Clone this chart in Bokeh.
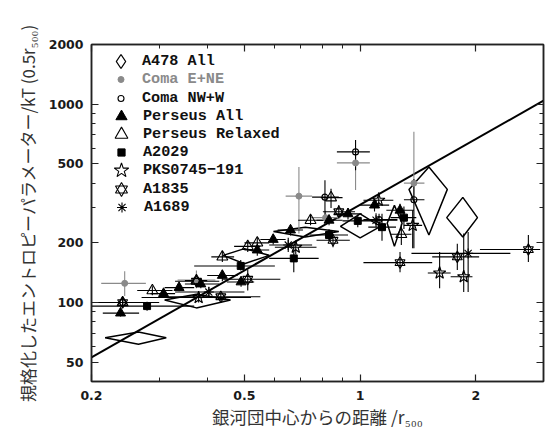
from bokeh.plotting import figure
from bokeh.models import ColumnDataSource, FixedTicker, LogAxis, Legend, LegendItem, Range1d
from bokeh.embed import file_html
from bokeh.resources import INLINE

# ---------------- data ----------------
x_ticks = [0.2, 0.5, 1, 2]
x_minor = [0.3, 0.4, 0.6, 0.7, 0.8, 0.9]
y_ticks = [50, 100, 200, 500, 1000, 2000]
y_minor = [60, 70, 80, 90, 300, 400, 600, 700, 800, 900]

line_x = [0.2, 3.0]
line_y = [53, 1042]

a478_x   = [0.265, 0.375, 0.50, 0.72, 1.00, 1.228, 1.51, 1.85]
a478_xlo = [0.217, 0.310, 0.44, 0.595, 0.889, 1.176, 1.34, 1.68]
a478_xhi = [0.313, 0.460, 0.58, 0.88, 1.13, 1.286, 1.686, 2.02]
a478_y   = [66.4, 103, 173, 228, 242, 251, 372, 268]
a478_ylo = [61.6, 94, 157, 214, 212, 192, 219, 214]
a478_yhi = [71.1, 110, 187, 240, 280, 309, 483, 339]

comaE_x   = [0.244, 0.375, 0.693, 0.813, 0.973, 1.38]
comaE_y   = [125, 130, 344, 268, 506, 400]
comaE_xlo = [0.212, 0.335, 0.64, 0.74, 0.87, 1.30]
comaE_xhi = [0.277, 0.42, 0.75, 0.89, 1.06, 1.47]
comaE_ylo = [108, 118, 223, 250, 369, 330]
comaE_yhi = [144, 145, 482, 290, 580, 726]

comaW_x   = [0.241, 0.81, 0.973, 1.38, 1.12]
comaW_y   = [100, 340, 575, 330, 262]
comaW_xlo = [0.214, 0.75, 0.87, 1.30, 1.02]
comaW_xhi = [0.268, 0.88, 1.06, 1.47, 1.25]
comaW_ylo = [94, 270, 465, 188, 245]
comaW_yhi = [106, 414, 660, 420, 280]

persA_x   = [0.238, 0.308, 0.338, 0.385, 0.438, 0.49, 0.54, 0.594, 0.659, 0.83, 0.93, 1.09, 1.27]
persA_y   = [88.5, 111, 119, 124, 137, 127, 184, 208, 232, 260, 280, 310, 292]
persA_xlo = [0.214, 0.285, 0.31, 0.35, 0.40, 0.45, 0.50, 0.55, 0.61, 0.77, 0.86, 1.0, 1.17]
persA_xhi = [0.266, 0.33, 0.37, 0.43, 0.48, 0.53, 0.58, 0.64, 0.71, 0.90, 1.01, 1.19, 1.38]
persA_ylo = [85, 106, 114, 118, 128, 120, 172, 196, 218, 245, 262, 288, 270]
persA_yhi = [92, 116, 124, 131, 146, 135, 197, 221, 247, 276, 300, 333, 315]

persR_x   = [0.241, 0.288, 0.375, 0.438, 0.51, 0.54, 0.743, 0.84, 1.28]
persR_y   = [100, 115, 129, 170, 192, 200, 260, 338, 221]
persR_xlo = [0.214, 0.263, 0.35, 0.41, 0.47, 0.50, 0.69, 0.79, 1.20]
persR_xhi = [0.268, 0.325, 0.40, 0.47, 0.55, 0.58, 0.80, 0.90, 1.36]
persR_ylo = [95, 109, 122, 160, 180, 188, 245, 300, 195]
persR_yhi = [106, 121, 136, 180, 204, 213, 277, 375, 250]

a2029_x   = [0.279, 0.489, 0.672, 0.83, 0.986, 1.14, 1.30]
a2029_y   = [96, 153, 167, 219, 258, 240, 268]
a2029_xlo = [0.20, 0.37, 0.58, 0.74, 0.90, 1.05, 1.20]
a2029_xhi = [0.37, 0.60, 0.78, 0.93, 1.08, 1.24, 1.40]
a2029_ylo = [91, 145, 142, 205, 240, 205, 235]
a2029_yhi = [101, 164, 195, 234, 278, 280, 305]

pks_x   = [0.38, 0.68, 1.118, 1.37, 1.61, 1.86]
pks_y   = [106, 190, 328, 245, 141, 135]
pks_xlo = [0.27, 0.60, 1.02, 1.30, 1.50, 1.72]
pks_xhi = [0.52, 0.77, 1.22, 1.45, 1.72, 1.96]
pks_ylo = [100, 175, 300, 188, 118, 113]
pks_yhi = [112, 205, 360, 292, 180, 223]

a1835_x   = [0.241, 0.375, 0.434, 0.51, 0.85, 0.88, 1.27, 1.79, 2.74]
a1835_y   = [100, 128, 107, 131, 206, 287, 159, 170, 185]
a1835_xlo = [0.20, 0.33, 0.30, 0.44, 0.77, 0.80, 1.02, 1.54, 2.05]
a1835_xhi = [0.30, 0.43, 0.55, 0.62, 0.94, 0.97, 1.54, 2.04, 2.94]
a1835_ylo = [95, 120, 102, 115, 190, 265, 142, 146, 160]
a1835_yhi = [105, 137, 112, 147, 222, 310, 180, 198, 219]

a1689_x   = [0.404, 0.65, 1.10, 1.91]
a1689_y   = [113, 195, 260, 177]
a1689_xlo = [0.33, 0.58, 1.0, 1.36]
a1689_xhi = [0.50, 0.75, 1.25, 2.46]
a1689_ylo = [106, 180, 240, 113]
a1689_yhi = [120, 212, 282, 227]

labels = ["A478 All", "Coma E+NE", "Coma NW+W", "Perseus All", "Perseus Relaxed",
          "A2029", "PKS0745\u2212191", "A1835", "A1689"]

# ---------------- figure ----------------
W, H = 545, 431
BL, BR, BT, BB = 91, 2, 44, 50
p = figure(width=W, height=H, x_axis_type="log", y_axis_type="log",
           x_range=Range1d(0.2, 3.0), y_range=Range1d(40, 2000),
           output_backend="svg", toolbar_location=None,
           min_border_left=BL, min_border_right=BR, min_border_top=BT, min_border_bottom=BB)
p.xgrid.visible = False
p.ygrid.visible = False
p.outline_line_color = "#222222"
p.outline_line_width = 1.5
p.background_fill_color = "white"
p.border_fill_color = "white"

tick_font = "DejaVu Sans"
def style_axis(ax, ticks, minor, labels_on):
    ax.ticker = FixedTicker(ticks=ticks, minor_ticks=minor)
    ax.major_tick_in = 7
    ax.major_tick_out = 0
    ax.minor_tick_in = 4
    ax.minor_tick_out = 0
    ax.major_tick_line_color = "#222222"
    ax.minor_tick_line_color = "#222222"
    ax.major_tick_line_width = 1.2
    ax.minor_tick_line_width = 1.0
    ax.axis_line_color = "#222222"
    ax.axis_line_width = 1.5
    if labels_on:
        ax.major_label_text_font = tick_font
        ax.major_label_text_font_style = "bold"
        ax.major_label_text_font_size = "12.5px"
        ax.major_label_text_color = "#1a1a1a"
        ax.major_label_overrides = {t: ("%g" % t) for t in ticks}
    else:
        ax.major_label_text_font_size = "1px"
        ax.major_label_text_color = None
        ax.major_label_standoff = 0

xa = p.xaxis[0]
ya = p.yaxis[0]
style_axis(xa, x_ticks, x_minor, True)
style_axis(ya, y_ticks, y_minor, True)
xa.major_label_standoff = 9
ya.major_label_standoff = 8

top_ax = LogAxis()
right_ax = LogAxis()
style_axis(top_ax, x_ticks, x_minor, False)
style_axis(right_ax, y_ticks, y_minor, False)
p.add_layout(top_ax, "above")
p.add_layout(right_ax, "right")

xa.axis_label = "銀河団中心からの距離 /r\u2085\u2080\u2080"
ya.axis_label = "規格化したエントロピーパラメーター/kT (0.5r\u2085\u2080\u2080)"
for ax in (xa, ya):
    ax.axis_label_text_font = "Noto Sans CJK JP"
    ax.axis_label_text_font_style = "normal"
    ax.axis_label_text_color = "#333333"
xa.axis_label_text_font_size = "17.5px"
ya.axis_label_text_font_size = "17px"
xa.axis_label_standoff = 1
ya.axis_label_standoff = 6

# fit line
p.line(line_x, line_y, line_color="black", line_width=2)

# A478 diamonds (patches built from the value arrays)
dxs = [[lo, c, hi, c, lo] for lo, c, hi in zip(a478_xlo, a478_x, a478_xhi)]
dys = [[c, hi, c, lo, c] for lo, c, hi in zip(a478_ylo, a478_y, a478_yhi)]
p.patches(dxs, dys, fill_color=None, line_color="black", line_width=1.5)
# zero-size centre markers: only used for the legend symbol
r_a478 = p.scatter(a478_x, a478_y, marker="diamond", size=0, fill_color=None,
                   line_color="black", line_width=1.3)

def series(x, y, xlo, xhi, ylo, yhi, color):
    src = ColumnDataSource(dict(x=x, y=y, xlo=xlo, xhi=xhi, ylo=ylo, yhi=yhi))
    p.segment(x0="xlo", y0="y", x1="xhi", y1="y", source=src, line_color=color, line_width=1.1)
    p.segment(x0="x", y0="ylo", x1="x", y1="yhi", source=src, line_color=color, line_width=1.1)
    return src

GRAY = "#8a8a8a"
s_ce = series(comaE_x, comaE_y, comaE_xlo, comaE_xhi, comaE_ylo, comaE_yhi, GRAY)
s_cw = series(comaW_x, comaW_y, comaW_xlo, comaW_xhi, comaW_ylo, comaW_yhi, "black")
s_pa = series(persA_x, persA_y, persA_xlo, persA_xhi, persA_ylo, persA_yhi, "black")
s_pr = series(persR_x, persR_y, persR_xlo, persR_xhi, persR_ylo, persR_yhi, "black")
s_a2 = series(a2029_x, a2029_y, a2029_xlo, a2029_xhi, a2029_ylo, a2029_yhi, "black")
s_pk = series(pks_x, pks_y, pks_xlo, pks_xhi, pks_ylo, pks_yhi, "black")
s_a18 = series(a1835_x, a1835_y, a1835_xlo, a1835_xhi, a1835_ylo, a1835_yhi, "black")
s_a16 = series(a1689_x, a1689_y, a1689_xlo, a1689_xhi, a1689_ylo, a1689_yhi, "black")

r_ce = p.scatter("x", "y", source=s_ce, marker="circle", size=6, fill_color=GRAY, line_color=GRAY)
r_cw = p.scatter("x", "y", source=s_cw, marker="circle", size=6, fill_color=None, line_color="black", line_width=1.1)
r_pa = p.scatter("x", "y", source=s_pa, marker="triangle", size=10, fill_color="black", line_color="black")
r_pr = p.scatter("x", "y", source=s_pr, marker="triangle", size=11, fill_color=None, line_color="black", line_width=1.1)
r_a2 = p.scatter("x", "y", source=s_a2, marker="square", size=7, fill_color="black", line_color="black")
r_pk = p.scatter("x", "y", source=s_pk, marker="star", size=13, fill_color=None, line_color="black", line_width=1.1)
r_a18a = p.scatter("x", "y", source=s_a18, marker="triangle", size=10, fill_color=None, line_color="black", line_width=1.1)
r_a18b = p.scatter("x", "y", source=s_a18, marker="inverted_triangle", size=10, fill_color=None, line_color="black", line_width=1.1)
r_a16 = p.scatter("x", "y", source=s_a16, marker="asterisk", size=10, fill_color=None, line_color="black", line_width=1.1)

# ---------------- legend (one small legend per row) ----------------
frame_h = H - BT - BB
row0 = 17.2          # first row centre below frame top (px)
pitch = 18.2
glyph_cx = 30        # glyph centre right of frame left (px)
text_x = 52          # label start right of frame left (px)
leg_sizes = [14, 6, 6, 11, 13, 7, 15, 12, 10]
leg_rend = [[r_a478], [r_ce], [r_cw], [r_pa], [r_pr], [r_a2], [r_pk], [r_a18a, r_a18b], [r_a16]]
GH = 40
for i, (lab, rs, sz) in enumerate(zip(labels, leg_rend, leg_sizes)):
    gw = int(round(sz / 0.4))
    cy = row0 + i * pitch
    leg = Legend(items=[LegendItem(label=lab, renderers=rs)],
                 location=(int(round(glyph_cx - gw / 2)), int(round(frame_h - cy - GH / 2))),
                 glyph_width=gw, glyph_height=GH, label_height=GH,
                 label_standoff=int(round(text_x - glyph_cx - gw / 2)),
                 padding=0, margin=0, spacing=0,
                 border_line_color=None, background_fill_alpha=0,
                 label_text_font="Liberation Mono", label_text_font_size="15.2px",
                 label_text_font_style="bold",
                 label_text_color=(GRAY if lab == "Coma E+NE" else "#111111"),
                 label_text_baseline="middle")
    p.add_layout(leg, "center")

open("out.html", "w").write(file_html(p, INLINE))
